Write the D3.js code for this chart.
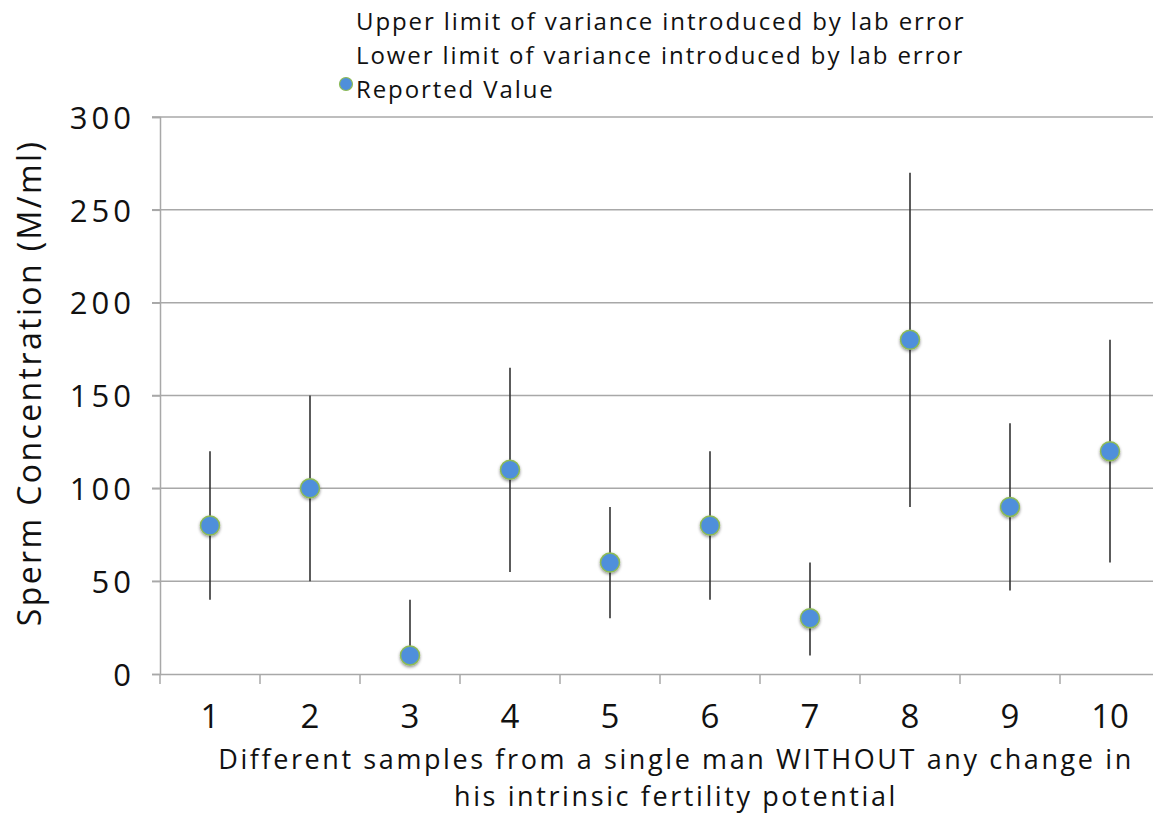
<!DOCTYPE html>
<html>
<head>
<meta charset="utf-8">
<script src="https://cdn.jsdelivr.net/npm/d3@7"></script>
<style>
  body { margin: 0; background: #fff; }
  text { font-family: "Open Sans", "Lato", sans-serif; fill: #111; }
</style>
</head>
<body>
<svg id="chart"></svg>
<script>
var samples = ["1", "2", "3", "4", "5", "6", "7", "8", "9", "10"];
var reported = [80, 100, 10, 110, 60, 80, 30, 180, 90, 120];
var upperLimit = [120, 150, 40, 165, 90, 120, 60, 270, 135, 180];
var lowerLimit = [40, 50, 10, 55, 30, 40, 10, 90, 45, 60];
var yTicks = [0, 50, 100, 150, 200, 250, 300];
var legendLabels = ["Upper limit of variance introduced by lab error",
                    "Lower limit of variance introduced by lab error",
                    "Reported Value"];

var width = 1153;
var height = 813;
var margin = {top: 117, right: -7, bottom: 139, left: 160};

var svg = d3.select("#chart")
            .attr("width", width)
            .attr("height", height);

var defs = svg.append("defs");
var shadow = defs.append("filter").attr("id", "shadow")
  .attr("x", "-50%").attr("y", "-50%").attr("width", "200%").attr("height", "200%");
shadow.append("feDropShadow")
  .attr("dx", 0).attr("dy", 1.5).attr("stdDeviation", 1.5)
  .attr("flood-color", "#000").attr("flood-opacity", 0.45);

var data = samples.map(function(s, i){
  return {sample: s, value: reported[i], hi: upperLimit[i], lo: lowerLimit[i]};
});

var x = d3.scaleBand()
          .domain(samples)
          .range([margin.left, width - margin.right]);

var y = d3.scaleLinear()
          .domain([0, 300])
          .range([height - margin.bottom, margin.top]);

// gridlines
svg.append("g").selectAll("line")
  .data(yTicks.slice(1))
  .enter().append("line")
  .attr("x1", margin.left - 8)
  .attr("x2", width - margin.right)
  .attr("y1", function(d){ return y(d); })
  .attr("y2", function(d){ return y(d); })
  .attr("stroke", "#a8a8a8")
  .attr("stroke-width", 1.5);

// y axis
var yAxis = d3.axisLeft(y).tickValues(yTicks).tickSize(8).tickPadding(17);
var gy = svg.append("g")
  .attr("transform", "translate(" + margin.left + ",0)")
  .call(yAxis);
gy.selectAll("path, line").attr("stroke", "#a8a8a8").attr("stroke-width", 1.5);
gy.selectAll("text")
  .style("font-size", "31px")
  .style("letter-spacing", "4px")
  .style("font-family", "'Open Sans', sans-serif")
  .attr("dy", "0.36em")
  .attr("fill", "#111");

// x axis
var xAxis = d3.axisBottom(x).tickSize(0).tickPadding(0);
var gx = svg.append("g")
  .attr("transform", "translate(0," + y(0) + ")")
  .call(xAxis);
gx.select(".domain").attr("stroke", "#a8a8a8").attr("stroke-width", 1.5);
gx.selectAll("text")
  .style("font-size", "33px")
  .style("font-family", "'Open Sans', sans-serif")
  .attr("y", 54)
  .attr("dy", 0)
  .attr("fill", "#111");

// boundary ticks between categories
svg.append("g").selectAll("line")
  .data(samples)
  .enter().append("line")
  .attr("x1", function(d){ return x(d); })
  .attr("x2", function(d){ return x(d); })
  .attr("y1", y(0))
  .attr("y2", y(0) + 10)
  .attr("stroke", "#a8a8a8")
  .attr("stroke-width", 1.5);

// error bars
svg.append("g").selectAll("line")
  .data(data)
  .enter().append("line")
  .attr("x1", function(d){ return x(d.sample) + x.bandwidth() / 2; })
  .attr("x2", function(d){ return x(d.sample) + x.bandwidth() / 2; })
  .attr("y1", function(d){ return y(d.hi); })
  .attr("y2", function(d){ return y(d.lo); })
  .attr("stroke", "#333")
  .attr("stroke-width", 1.6);

// reported values
svg.append("g").selectAll("circle")
  .data(data)
  .enter().append("circle")
  .attr("cx", function(d){ return x(d.sample) + x.bandwidth() / 2; })
  .attr("cy", function(d){ return y(d.value); })
  .attr("r", 9.5)
  .attr("fill", "#4f8fdb")
  .attr("stroke", "#8dbb55")
  .attr("stroke-width", 1.5)
  .attr("filter", "url(#shadow)");

// y title
svg.append("text")
  .attr("transform", "translate(41,383) rotate(-90)")
  .attr("text-anchor", "middle")
  .style("font-size", "32px")
  .style("letter-spacing", "2.4px")
  .text("Sperm Concentration (M/ml)");

// x title, two lines
var xTitle = svg.append("g")
  .style("font-size", "27px")
  .style("letter-spacing", "2.6px");
xTitle.append("text").attr("text-anchor", "middle").attr("x", 676).attr("y", 769)
  .text("Different samples from a single man WITHOUT any change in");
xTitle.append("text").attr("text-anchor", "middle").attr("x", 676).attr("y", 806)
  .text("his intrinsic fertility potential");

// legend
var legend = svg.append("g");
legend.selectAll("text")
  .data(legendLabels)
  .enter().append("text")
  .attr("x", 356)
  .attr("y", function(d, i){ return 30 + i * 34; })
  .style("font-size", "24px")
  .style("letter-spacing", "1.9px")
  .text(function(d){ return d; });
legend.append("circle")
  .attr("cx", 346)
  .attr("cy", 84)
  .attr("r", 6.5)
  .attr("fill", "#4f8fdb")
  .attr("stroke", "#8dbb55")
  .attr("stroke-width", 1.2);
</script>
</body>
</html>
